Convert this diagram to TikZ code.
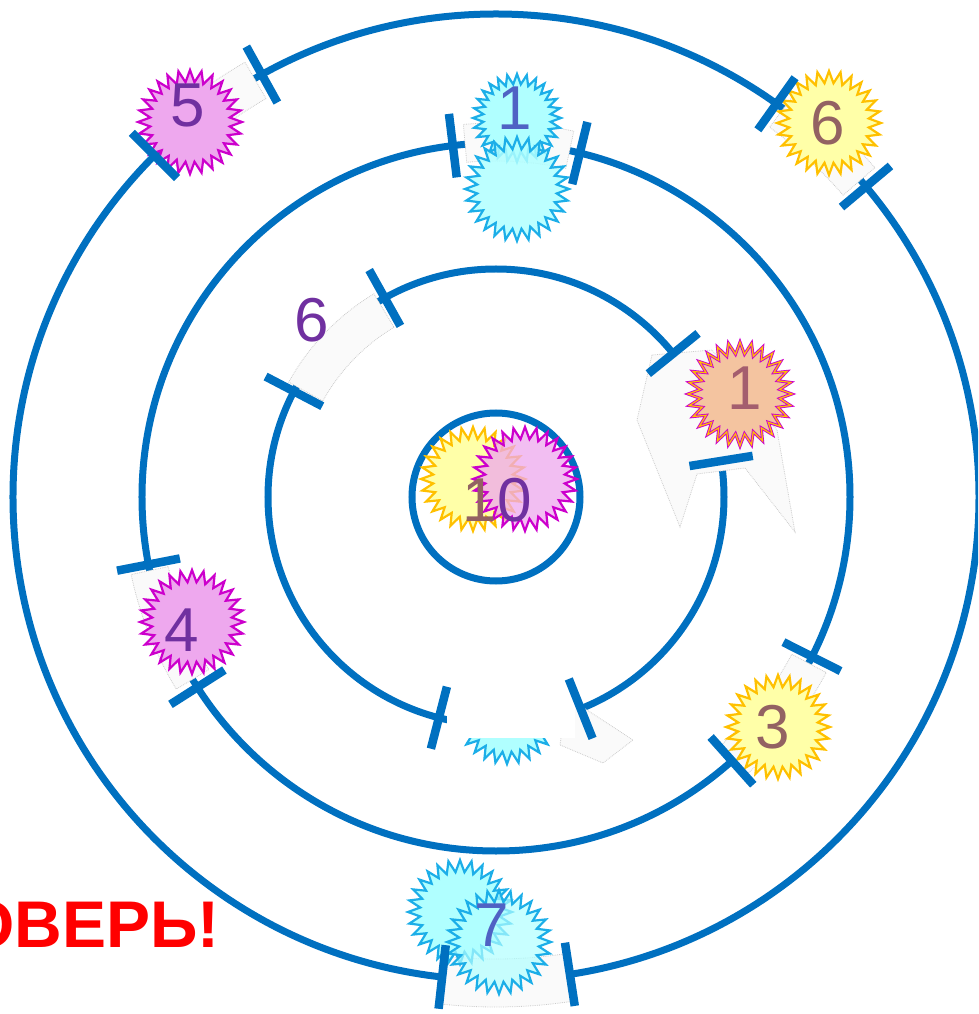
\documentclass[tikz,border=0pt]{standalone}
\usepackage{fontspec}
\setmainfont{Liberation Sans}
\usetikzlibrary{shapes.geometric}

\definecolor{orbitblue}{HTML}{0070C0}
\definecolor{ylwfill}{HTML}{FFFFA8}
\definecolor{ylwline}{HTML}{FFC000}
\definecolor{pnkfill}{HTML}{EEA8EE}
\definecolor{pnkline}{HTML}{CC00CC}
\definecolor{cynfill}{HTML}{B0FFFF}
\definecolor{cynline}{HTML}{1CAEE8}
\definecolor{orgfill}{HTML}{F4C4A0}
\definecolor{numpurple}{HTML}{7030A0}
\definecolor{numbrown}{HTML}{936262}
\definecolor{numrose}{HTML}{A45E6E}
\definecolor{numblue}{HTML}{4F62C4}

\begin{document}
\begin{tikzpicture}[x=1pt,y=1pt,
  orbit/.style={draw=orbitblue,line width=7},
  notch/.style={draw=orbitblue,line width=8.5},
  sheet/.style={fill=gray!4,draw=gray!40,densely dotted,line width=0.8},
  burst/.style={star,star points=28,star point ratio=1.3,minimum size=104,inner sep=0,line width=2.2},
  yburst/.style={burst,fill=ylwfill,draw=ylwline},
  pburst/.style={burst,fill=pnkfill,draw=pnkline},
  cburst/.style={burst,fill=cynfill,draw=cynline},
  oburst/.style={burst,fill=orgfill,draw=pnkline,double=ylwline,double distance=1.2,line width=0.9},
  digit/.style={font=\fontsize{62}{62}\selectfont,inner sep=0}]
  \useasboundingbox (-496,-517) rectangle (482,497);
  \clip (-496,-517) rectangle (482,497);
  \coordinate (O) at (0,0);
  % --- orbits ---
  \foreach \r in {84,228,354,483}
    \draw[orbit] (O) circle[radius=\r];
  % --- covering sheets ---
  \foreach \a/\b/\ri/\ro in {120/134/460/502,41/53.5/460/502,264/279/462/510,78/95/336/374,192/211/335/373,312/332/335/374,121/151/198/237}
    \draw[sheet] (\a:\ri) arc[start angle=\a,end angle=\b,radius=\ri] -- (\b:\ro) arc[start angle=\b,end angle=\a,radius=\ro] -- cycle;
  \draw[sheet] (156,142) -- (141,77) -- (184,-30) -- (201,23) -- (249,29) -- (299,-35) -- (281,67) -- (216,147) -- cycle;
  \draw[sheet] (71,-200) -- (137,-243) -- (107,-266) -- (64,-248) -- cycle;
  % --- stars and numbers ---
  \node[pburst] (s5) at (-306,375) {};
  \node[digit,text=numpurple] (n5) at (-308,392) {5};
  \node[cburst,minimum size=88] (s1a) at (21,379) {};
  \node[digit,text=numblue] (n1a) at (19,389) {1};
  \node[cburst,fill opacity=0.85] (s1b) at (21,308) {};
  \node[yburst] (s6) at (333,374) {};
  \node[digit,text=numbrown] (n6) at (332,374) {6};
  \node[oburst] (s1c) at (244,103) {};
  \node[digit,text=numrose] (n1c) at (249,109) {1};
  \node[digit,text=numpurple] (n6b) at (-184,177) {6};
  \node[pburst] (s4) at (-304,-125) {};
  \node[digit,text=numpurple] (n4) at (-314,-133) {4};
  \node[yburst] (s3) at (282,-230) {};
  \node[digit,text=numbrown] (n3) at (277,-230) {3};
  \node[cburst] (s2) at (11,-215) {};
  \fill[white] (-49,-150) rectangle (79,-241);
  \node[cburst] (s7a) at (-36,-415) {};
  \node[cburst,fill opacity=0.7] (s7b) at (3,-445) {};
  \node[digit,text=numblue] (n7) at (-4,-428) {7};
  \node[yburst] (sc1) at (-23,18) {};
  \node[pburst,fill opacity=0.75] (sc2) at (29,18) {};
  \node[digit] (n10) at (1,-3) {\textcolor{numbrown}{1}\textcolor{numpurple}{0}};
  % --- notches ---
  \foreach \a/\r in {119/483,135/483,54.5/483,40/483,263.6/483,278.8/483,97/354,76.3/354,191/354,212.5/354,333.2/354,311.8/354,119.2/228,152.4/228,39/228,9.1/228,255.5/228,291.8/228}
    \draw[notch] ({\a}:{\r-32}) -- ({\a}:{\r+32});
  % --- label ---
  \node[font=\bfseries\fontsize{66}{66}\selectfont,text=red,anchor=east,inner sep=0] (warn) at (-276,-428) {ОВЕРЬ!};
\end{tikzpicture}
\end{document}
